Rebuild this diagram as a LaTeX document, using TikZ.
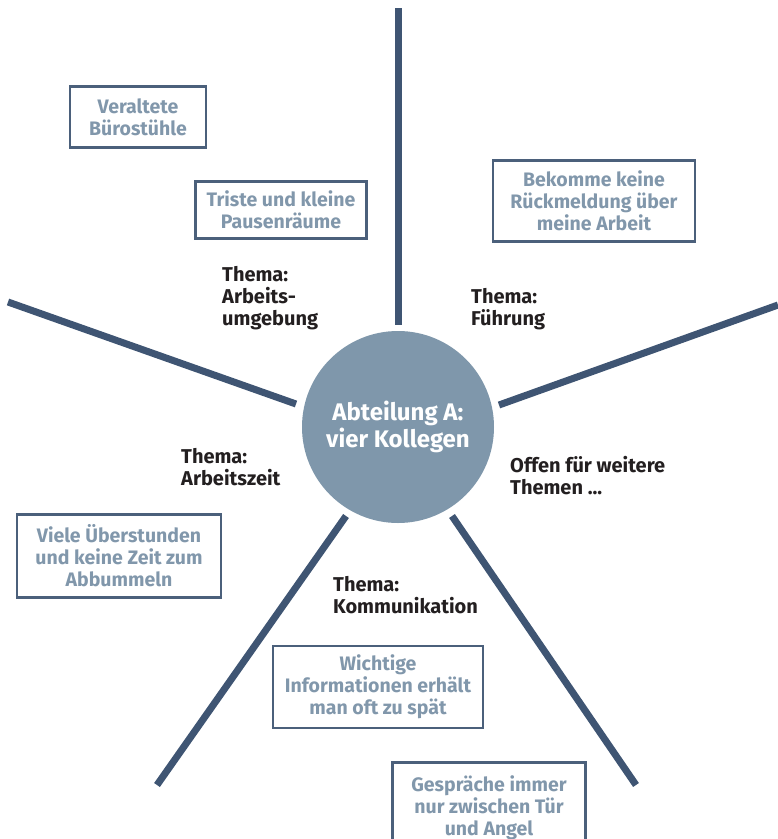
\documentclass[tikz,border=0pt]{standalone}
\usepackage{fontspec}
\setmainfont{Fira Sans}
\usetikzlibrary{positioning}
\definecolor{spoke}{HTML}{3F5573}
\definecolor{hub}{HTML}{7F97AB}
\definecolor{note}{HTML}{8197AB}
\definecolor{frame}{HTML}{4B607B}
\definecolor{ink}{HTML}{231F20}
\tikzset{
  notebox/.style={draw=frame, line width=2.6pt, text=note, font=\bfseries\fontsize{19.5}{22}\selectfont,
    align=center, inner xsep=4pt, inner ysep=4pt},
  theme/.style={text=ink, font=\bfseries\fontsize{20}{22.3}\selectfont, align=left, anchor=north west, inner sep=0pt},
  spokeline/.style={draw=spoke, line width=7pt}
}
\begin{document}
\begin{tikzpicture}[x=1pt, y=-1pt]
\useasboundingbox (0,0) rectangle (778,839);
\clip (0,0) rectangle (778,839);
\def\cx{398}
\def\cy{427}

% hub
\node[circle, fill=hub, minimum size=192pt, text=white, font=\bfseries\fontsize{24}{27}\selectfont, align=center] (hub) at (\cx, \cy) {Abteilung A:\\vier Kollegen};

% spokes
\coordinate (ta) at (398, 8);
\coordinate (tb) at (398, 325);
\coordinate (la) at (8, 302);
\coordinate (lb) at (296, 404);
\coordinate (ra) at (778, 305);
\coordinate (rb) at (499, 405);
\coordinate (da) at (346, 516);
\coordinate (db) at (157, 785);
\coordinate (ea) at (452, 516);
\coordinate (eb) at (636, 785);
\draw[spokeline] (ta) -- (tb);
\draw[spokeline] (la) -- (lb);
\draw[spokeline] (ra) -- (rb);
\draw[spokeline] (da) -- (db);
\draw[spokeline] (ea) -- (eb);

% notes
\node[notebox, minimum width=136pt, minimum height=61pt] (stuhl) at (138, 117) {Veraltete\\Bürostühle};
\node[notebox, minimum width=171pt, minimum height=57pt] (pause) at (281, 210) {Triste und kleine\\Pausenräume};
\node[notebox, minimum width=202pt, minimum height=81pt] (rueck) at (594, 201) {Bekomme keine\\Rückmeldung über\\meine Arbeit};
\node[notebox, minimum width=204pt, minimum height=83pt] (stunden) at (119, 556) {Viele Überstunden\\und keine Zeit zum\\Abbummeln};
\node[notebox, minimum width=210pt, minimum height=82pt] (info) at (378, 687) {Wichtige\\Informationen erhält\\man oft zu spät};
\node[notebox, minimum width=193pt, minimum height=90pt, anchor=north] (tuer) at (489, 761) {Gespräche immer\\nur zwischen Tür\\und Angel};

% themes
\node[theme] (umgeb) at (222, 266) {Thema:\\Arbeits-\\umgebung};
\node[theme] (fuehr) at (471, 288) {Thema:\\Führung};
\node[theme] (zeit) at (181, 448) {Thema:\\Arbeitszeit};
\node[theme] (offen) at (510, 456) {Offen für weitere\\Themen ...};
\node[theme] (komm) at (333, 576) {Thema:\\Kommunikation};
\end{tikzpicture}
\end{document}
